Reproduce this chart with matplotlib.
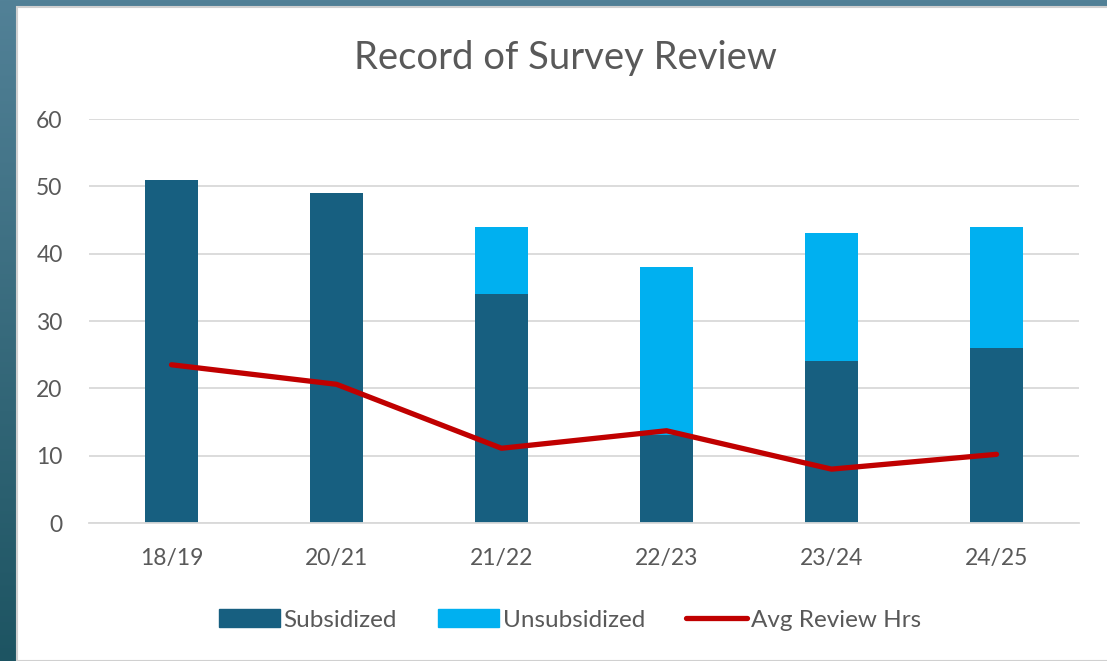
import numpy as np
import matplotlib.pyplot as plt
from matplotlib.patches import Rectangle
from matplotlib.lines import Line2D
from matplotlib.colors import LinearSegmentedColormap

years = ["18/19", "20/21", "21/22", "22/23", "23/24", "24/25"]
subsidized = [51, 49, 34, 13, 24, 26]
unsubsidized = [0, 0, 10, 25, 19, 18]
avg_review_hrs = [23.5, 20.6, 11.1, 13.7, 8.0, 10.2]

plt.rcParams["font.family"] = ["Lato", "DejaVu Sans"]
grey = "#595959"

fig = plt.figure(figsize=(11.07, 6.61), dpi=100)

# teal slide background with a soft vertical gradient
bg = fig.add_axes([0, 0, 1, 1], zorder=-10)
grad = np.linspace(0, 1, 256).reshape(-1, 1)
cmap = LinearSegmentedColormap.from_list("teal", ["#528197", "#1d5462"])
bg.imshow(grad, aspect="auto", cmap=cmap, extent=[0, 1, 0, 1], origin="upper")
bg.set_xlim(0, 1)
bg.set_ylim(0, 1)
bg.axis("off")
# white chart panel
bg.add_patch(Rectangle((17 / 1107, 0), 1, 1 - 7 / 661, facecolor="white",
                       edgecolor="#d0d0d0", linewidth=1.5))

ax = fig.add_axes([89 / 1107, 1 - 523 / 661, 990 / 1107, 404 / 661])
ax.set_facecolor("none")
x = np.arange(len(years))
w = 0.32
ax.bar(x, subsidized, w, color="#175f80", label="Subsidized", zorder=2)
ax.bar(x, unsubsidized, w, bottom=subsidized, color="#00b0f0",
       label="Unsubsidized", zorder=2)
ax.plot(x, avg_review_hrs, color="#c00000", linewidth=3.8,
        solid_capstyle="round", label="Avg Review Hrs", zorder=3)

ax.set_xlim(-0.5, len(years) - 0.5)
ax.set_ylim(0, 60)
ax.set_yticks(range(0, 61, 10))
ax.set_xticks(x)
ax.set_xticklabels(years)
ax.grid(axis="y", color="#d9d9d9", linewidth=1.3, zorder=0)
ax.set_axisbelow(True)
for s in ax.spines.values():
    s.set_visible(False)
ax.spines["bottom"].set_visible(True)
ax.spines["bottom"].set_color("#d9d9d9")
ax.spines["bottom"].set_linewidth(1.3)
ax.tick_params(length=0, labelsize=16.5, colors=grey)
ax.tick_params(axis="x", pad=18)
ax.tick_params(axis="y", pad=19)

fig.text(565 / 1107, 1 - 58 / 661, "Record of Survey Review", ha="center",
         va="center", fontsize=27.5, color=grey)

handles = [Rectangle((0, 0), 1, 1, color="#175f80"),
           Rectangle((0, 0), 1, 1, color="#00b0f0"),
           Line2D([], [], color="#c00000", linewidth=3.8, solid_capstyle="round")]
fig.legend(handles, ["Subsidized", "Unsubsidized", "Avg Review Hrs"],
           loc="center", bbox_to_anchor=(570 / 1107, 1 - 620 / 661), ncol=3,
           frameon=False, fontsize=17.5, labelcolor=grey, handlelength=2.5,
           handleheight=0.75, handletextpad=0.15, columnspacing=1.7)

fig.savefig("out.png", dpi=100)
